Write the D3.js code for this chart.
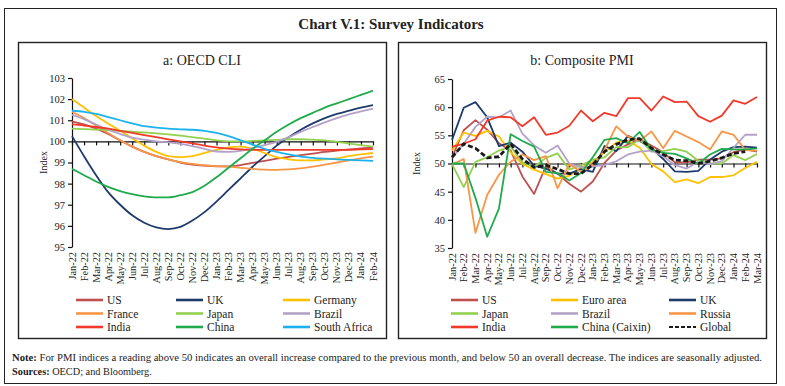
<!DOCTYPE html>
<html>
<head>
<meta charset="utf-8">
<script src="https://cdn.jsdelivr.net/npm/d3@7"></script>
<style>
  body { margin: 0; background: #fff; }
  svg text { font-family: "Liberation Serif", "DejaVu Serif", serif; fill: #222; }
</style>
</head>
<body>
<svg id="chart" width="785" height="386"></svg>
<script>
// Panel a: OECD CLI (Jan-22 .. Feb-24)
const cliMonths = ["Jan-22","Feb-22","Mar-22","Apr-22","May-22","Jun-22","Jul-22","Aug-22","Sep-22","Oct-22","Nov-22","Dec-22",
  "Jan-23","Feb-23","Mar-23","Apr-23","May-23","Jun-23","Jul-23","Aug-23","Sep-23","Oct-23","Nov-23","Dec-23","Jan-24","Feb-24"];
const cliUS      = [100.95,100.8,100.6,100.35,100.05,99.75,99.5,99.3,99.15,99.0,98.9,98.85,98.82,98.82,98.88,98.98,99.08,99.18,99.27,99.35,99.42,99.5,99.56,99.62,99.67,99.7];
const cliUK      = [100.25,99.3,98.4,97.6,97.0,96.5,96.15,95.93,95.85,95.95,96.25,96.65,97.15,97.7,98.25,98.8,99.3,99.8,100.2,100.55,100.85,101.1,101.3,101.45,101.6,101.72];
const cliGermany = [102.0,101.6,101.2,100.85,100.5,100.15,99.8,99.5,99.3,99.25,99.3,99.45,99.6,99.72,99.75,99.65,99.45,99.25,99.15,99.1,99.1,99.15,99.2,99.3,99.38,99.45];
const cliFrance  = [101.4,101.1,100.75,100.4,100.05,99.75,99.5,99.3,99.15,99.02,98.93,98.87,98.83,98.8,98.75,98.7,98.66,98.65,98.67,98.72,98.8,98.9,99.0,99.1,99.2,99.28];
const cliJapan   = [100.6,100.58,100.56,100.53,100.5,100.46,100.42,100.38,100.33,100.27,100.2,100.13,100.05,100.0,100.0,100.02,100.05,100.07,100.1,100.1,100.08,100.05,99.98,99.9,99.82,99.75];
const cliBrazil  = [101.25,101.05,100.8,100.55,100.35,100.18,100.08,100.0,99.95,99.88,99.78,99.65,99.52,99.5,99.55,99.68,99.82,99.98,100.2,100.45,100.68,100.9,101.1,101.28,101.42,101.55];
const cliIndia   = [100.8,100.75,100.68,100.6,100.5,100.4,100.3,100.2,100.1,100.0,99.9,99.8,99.72,99.66,99.62,99.6,99.6,99.6,99.6,99.6,99.6,99.6,99.6,99.6,99.62,99.63];
const cliChina   = [98.7,98.4,98.1,97.85,97.65,97.5,97.4,97.35,97.35,97.45,97.6,97.9,98.3,98.75,99.2,99.65,100.05,100.45,100.8,101.1,101.35,101.6,101.8,102.0,102.2,102.4];
const cliSAfrica = [101.45,101.4,101.3,101.15,101.0,100.85,100.72,100.65,100.6,100.57,100.55,100.5,100.4,100.25,100.05,99.85,99.65,99.5,99.38,99.28,99.22,99.18,99.15,99.12,99.1,99.08];
const cliTicks = [95,96,97,98,99,100,101,102,103];

// Panel b: Composite PMI (Jan-22 .. Mar-24)
const pmiMonths = cliMonths.concat(["Mar-24"]);
const pmiUS      = [51.1,55.9,57.7,56.0,53.6,52.3,47.7,44.6,49.5,48.2,46.4,45.0,46.8,50.1,52.3,53.4,54.3,53.2,52.0,50.2,50.2,50.7,50.7,50.9,52.0,52.5,52.1];
const pmiEuro    = [52.3,55.5,54.9,55.8,54.8,52.0,49.9,48.9,48.1,47.3,47.8,49.3,50.3,52.0,53.7,54.1,52.8,49.9,48.6,46.7,47.2,46.5,47.6,47.6,47.9,49.2,50.3];
const pmiUK      = [54.2,59.9,60.9,58.2,53.1,53.7,52.1,49.6,49.1,48.2,48.2,49.0,48.5,53.1,52.2,54.9,54.0,52.8,50.8,48.6,48.5,48.7,50.7,52.1,52.9,53.0,52.8];
const pmiJapan   = [49.9,45.8,50.3,51.1,52.3,53.0,50.2,49.4,51.0,51.8,48.9,49.7,50.7,51.1,52.9,52.9,54.3,52.1,52.2,52.6,52.1,50.5,50.0,50.0,51.5,50.6,51.7];
const pmiBrazil  = [51.0,53.5,56.5,58.3,58.2,59.4,55.3,53.2,51.9,53.2,50.0,49.3,49.5,49.7,50.4,51.6,52.1,52.3,51.3,49.7,49.1,50.3,49.9,50.4,52.8,55.1,55.1];
const pmiRussia  = [49.8,50.8,37.7,44.4,48.0,50.3,51.6,50.6,51.3,45.6,49.9,48.5,49.7,52.4,56.6,54.8,54.0,55.7,52.7,55.8,54.8,53.8,52.5,55.7,55.1,52.4,52.3];
const pmiIndia   = [53.0,53.5,54.3,57.6,58.3,58.2,56.6,58.2,55.1,55.5,56.7,59.4,57.5,59.0,58.4,61.6,61.6,59.4,61.9,60.9,61.0,58.4,57.4,58.5,61.2,60.6,61.8];
const pmiChina   = [50.0,50.0,43.9,37.0,42.0,55.2,54.0,53.0,48.5,48.3,47.0,48.3,51.1,54.2,54.5,53.6,55.6,52.5,51.9,51.7,50.9,50.0,51.6,52.6,52.5,52.5,52.7];
const pmiGlobal  = [51.1,53.5,52.7,51.0,51.2,53.5,50.8,49.3,49.7,49.0,48.2,48.2,49.8,52.1,53.4,54.2,54.4,52.7,51.6,50.6,50.5,50.0,50.4,51.0,51.8,52.1,null];
const pmiTicks = [35,40,45,50,55,60,65];

const C = {
  us: "#c0504d", uk: "#1f3b6b", yellow: "#ffc000", orange: "#f79646",
  japan: "#92d050", brazil: "#b3a2c7", india: "#f23a2a", china: "#1fab4c", safrica: "#1cb2ee"
};

const cliSeries = [
  { name: "US", values: cliUS, color: C.us },
  { name: "UK", values: cliUK, color: C.uk },
  { name: "Germany", values: cliGermany, color: C.yellow },
  { name: "France", values: cliFrance, color: C.orange },
  { name: "Japan", values: cliJapan, color: C.japan },
  { name: "Brazil", values: cliBrazil, color: C.brazil },
  { name: "India", values: cliIndia, color: C.india },
  { name: "China", values: cliChina, color: C.china },
  { name: "South Africa", values: cliSAfrica, color: C.safrica }
];
const pmiSeries = [
  { name: "US", values: pmiUS, color: C.us },
  { name: "Euro area", values: pmiEuro, color: C.yellow },
  { name: "UK", values: pmiUK, color: C.uk },
  { name: "Japan", values: pmiJapan, color: C.japan },
  { name: "Brazil", values: pmiBrazil, color: C.brazil },
  { name: "Russia", values: pmiRussia, color: C.orange },
  { name: "India", values: pmiIndia, color: C.india },
  { name: "China (Caixin)", values: pmiChina, color: C.china },
  { name: "Global", values: pmiGlobal, color: "#1a1a1a", dashed: true }
];

const svg = d3.select("#chart");

// Outer frame and panel frames
svg.append("rect").attr("x", 4.5).attr("y", 8.5).attr("width", 772).attr("height", 375)
  .attr("fill", "none").attr("stroke", "#222").attr("stroke-width", 1);
[18.5, 398.5].forEach(x => {
  svg.append("rect").attr("x", x).attr("y", 42.5).attr("width", 368).attr("height", 296)
    .attr("fill", "none").attr("stroke", "#222").attr("stroke-width", 1.4);
});

svg.append("text").attr("x", 391).attr("y", 29).attr("text-anchor", "middle")
  .attr("font-size", 15).attr("font-weight", "bold").text("Chart V.1: Survey Indicators");

function drawPanel(opt) {
  const g = svg.append("g");
  const x = d3.scalePoint().domain(opt.months).range(opt.xRange);
  const y = d3.scaleLinear().domain(opt.yDomain).range(opt.yRange);

  g.append("text").attr("x", opt.titleX).attr("y", 65).attr("text-anchor", "middle")
    .attr("font-size", 14).text(opt.title);

  // y axis
  const ya = g.append("g").attr("transform", `translate(${opt.xRange[0]},0)`)
    .call(d3.axisLeft(y).tickValues(opt.ticks).tickSize(4).tickPadding(3).tickSizeOuter(0));
  ya.selectAll("path, line").attr("stroke", "#111").attr("stroke-width", 1.2);
  ya.selectAll("text").attr("font-size", 10.5).attr("font-family", "Liberation Serif").attr("fill", "#222");

  g.append("text").attr("transform", `translate(${opt.indexX},${(opt.yRange[0] + opt.yRange[1]) / 2}) rotate(-90)`)
    .attr("text-anchor", "middle").attr("font-size", 10).text("Index");

  // category axis line at the reference value
  const xa = g.append("g").attr("transform", `translate(0,${y(opt.baseline)})`)
    .call(d3.axisBottom(x).tickSize(4).tickSizeOuter(0).tickFormat(""));
  xa.selectAll("path, line").attr("stroke", "#111").attr("stroke-width", 1.2);

  // month labels at the bottom of the plot
  g.selectAll(".mlab").data(opt.months).enter().append("text")
    .attr("transform", d => `translate(${x(d) + 3.5},${opt.yRange[0] + 5}) rotate(-90)`)
    .attr("text-anchor", "end").attr("font-size", 10.3).text(d => d);

  const line = d3.line()
    .defined(d => d != null)
    .x((d, i) => x(opt.months[i]))
    .y(d => y(d))
    .curve(opt.curve);

  opt.series.forEach(s => {
    g.append("path").datum(s.values)
      .attr("fill", "none")
      .attr("stroke", s.color)
      .attr("stroke-width", s.dashed ? 2.8 : 1.8)
      .attr("stroke-dasharray", s.dashed ? "5,2.5" : null)
      .attr("stroke-linejoin", "round")
      .attr("d", line);
  });

  // legend: 3 columns x 3 rows
  opt.series.forEach((s, i) => {
    const col = i % 3, row = Math.floor(i / 3);
    const lx = opt.legendX[col], ly = 300 + row * 13.5;
    g.append("line").attr("x1", lx).attr("x2", lx + 27).attr("y1", ly).attr("y2", ly)
      .attr("stroke", s.color).attr("stroke-width", s.dashed ? 2.2 : 2.6)
      .attr("stroke-dasharray", s.dashed ? "4,2" : null);
    g.append("text").attr("x", lx + 31).attr("y", ly + 4).attr("font-size", 11.5).text(s.name);
  });
}

drawPanel({
  title: "a: OECD CLI", titleX: 202, months: cliMonths, series: cliSeries,
  xRange: [72, 373], yDomain: [95, 103], yRange: [247, 78], ticks: cliTicks,
  baseline: 100, indexX: 47, legendX: [76, 176, 283], curve: d3.curveMonotoneX
});
drawPanel({
  title: "b: Composite PMI", titleX: 582, months: pmiMonths, series: pmiSeries,
  xRange: [452, 757], yDomain: [35, 65], yRange: [248, 79], ticks: pmiTicks,
  baseline: 50, indexX: 420, legendX: [451, 551, 669], curve: d3.curveLinear
});

// Notes
const note = svg.append("text").attr("x", 12).attr("y", 361).attr("font-size", 10.3)
  .attr("textLength", 750).attr("lengthAdjust", "spacingAndGlyphs");
note.append("tspan").attr("font-weight", "bold").text("Note: ");
note.append("tspan").text("For PMI indices a reading above 50 indicates an overall increase compared to the previous month, and below 50 an overall decrease. The indices are seasonally adjusted.");
const src = svg.append("text").attr("x", 12).attr("y", 375).attr("font-size", 10.3);
src.append("tspan").attr("font-weight", "bold").text("Sources: ");
src.append("tspan").text(" OECD; and Bloomberg.");
</script>
</body>
</html>
